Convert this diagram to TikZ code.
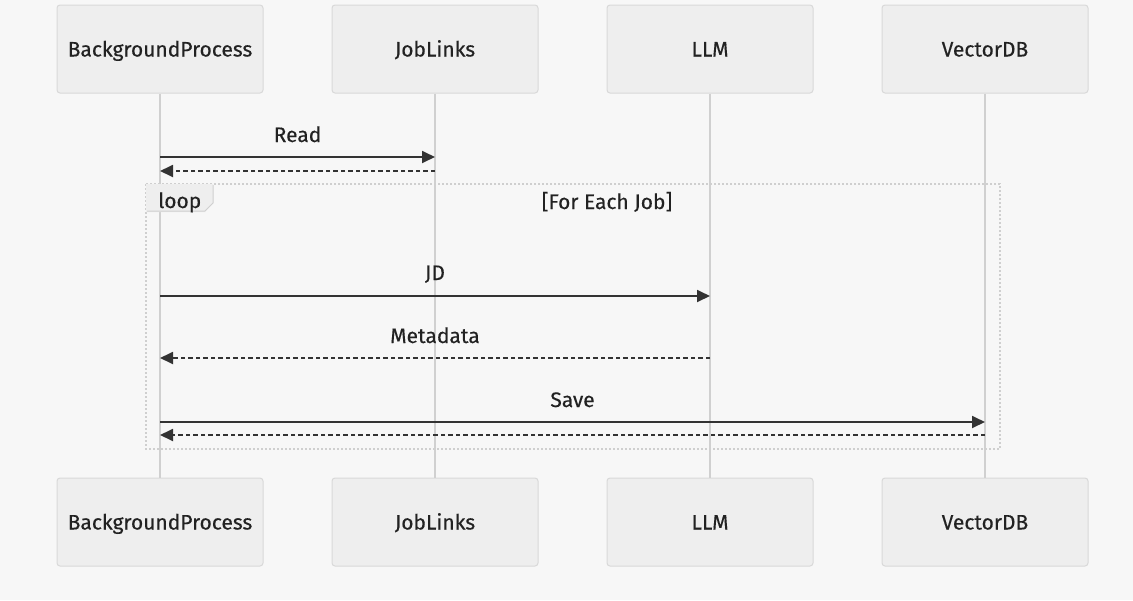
\documentclass[tikz,border=0pt]{standalone}
\usepackage{fontspec}
\setmainfont{Fira Sans}
\newfontfamily\diagfont{Fira Sans}[FakeBold=0.35]
\usetikzlibrary{arrows.meta}
\definecolor{bgc}{HTML}{F7F7F7}
\definecolor{actfill}{HTML}{EEEEEE}
\definecolor{actdraw}{HTML}{D9D9D9}
\definecolor{lifec}{HTML}{D0D0D0}
\definecolor{ink}{HTML}{333333}
\definecolor{txt}{HTML}{222222}
\definecolor{loopc}{HTML}{CFCFCF}
\tikzset{
  actor/.style={draw=actdraw, fill=actfill, line width=1pt, rounded corners=3pt,
    minimum width=206pt, minimum height=88pt, inner sep=0pt,
    text height=15pt, text depth=0pt,
    font=\diagfont\fontsize{21}{24}\selectfont, text=txt},
  lifeline/.style={draw=lifec, line width=2pt},
  msg/.style={draw=ink, line width=1.8pt, -{Triangle[length=13pt,width=12pt]}},
  reply/.style={msg, dash pattern=on 4.5pt off 3pt},
  lbl/.style={font=\diagfont\fontsize{21}{24}\selectfont, text=txt, inner sep=0pt},
  loopbox/.style={draw=loopc, line width=1.6pt, dash pattern=on 1.6pt off 2.4pt},
}
\begin{document}
\begin{tikzpicture}[x=1pt,y=-1pt]
  \useasboundingbox[fill=bgc] (0,0) rectangle (1133,600);

  % participants, top and bottom
  \foreach \n/\t/\x in {bp/BackgroundProcess/160, jl/JobLinks/435, llm/LLM/710, vdb/VectorDB/985}{
    \node[actor] (\n top) at (\x,49) {\t};
    \node[actor] (\n bot) at (\x,522) {\t};
    \draw[lifeline] (\n top.south) -- (\n bot.north);
  }

  % lifeline anchor points for messages
  \foreach \n/\x in {bp/160, jl/435, llm/710, vdb/985}{
    \coordinate (\n1) at (\x,157);
    \coordinate (\n2) at (\x,171);
    \coordinate (\n3) at (\x,296);
    \coordinate (\n4) at (\x,358);
    \coordinate (\n5) at (\x,422);
    \coordinate (\n6) at (\x,435);
  }

  % loop frame
  \coordinate (loopA) at (146,184);
  \coordinate (loopB) at (1000,449);
  \draw[loopbox] (loopA) rectangle (loopB);
  \fill[actfill] (146,184) -- (213,184) -- (213,203) -- (205,212) -- (146,212) -- cycle;
  \draw[loopc, line width=1pt] (213,185) -- (213,203) -- (205,211) -- (147,211);
  \node[lbl, anchor=base west] (looplbl) at (158,208) {loop};
  \node[lbl, anchor=base] (loopcond) at (607,209) {[For Each Job]};

  % messages
  \draw[msg] (bp1) -- node[lbl, anchor=base, yshift=15pt] (m1) {Read} (jl1);
  \draw[reply] (jl2) -- (bp2);
  \draw[msg] (bp3) -- node[lbl, anchor=base, yshift=16pt] (m2) {JD} (llm3);
  \draw[reply] (llm4) -- node[lbl, anchor=base, yshift=15pt] (m3) {Metadata} (bp4);
  \draw[msg] (bp5) -- node[lbl, anchor=base, yshift=15pt] (m4) {Save} (vdb5);
  \draw[reply] (vdb6) -- (bp6);
\end{tikzpicture}
\end{document}
